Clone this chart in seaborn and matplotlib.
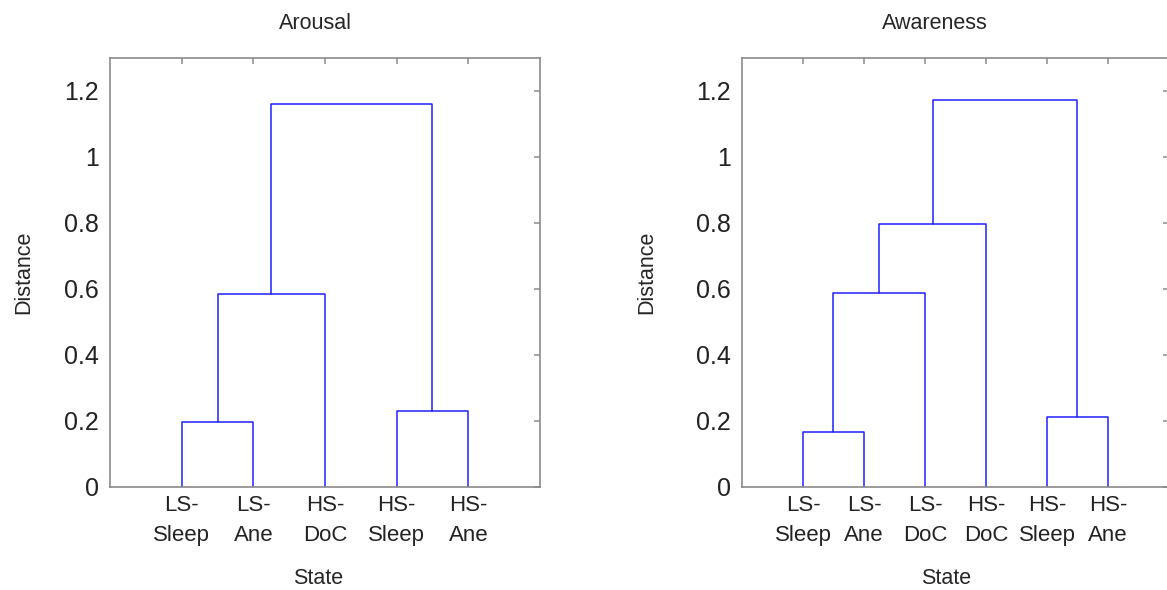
import matplotlib
matplotlib.use("Agg")
import matplotlib.pyplot as plt
import pandas as pd
import seaborn as sns

# leaf order as shown on the x axis
arousal_leaves = ["LS-\nSleep", "LS-\nAne", "HS-\nDoC", "HS-\nSleep", "HS-\nAne"]
# merges: (left id, right id, distance); leaves are 0..n-1, new clusters n, n+1, ...
arousal_links = [(0, 1, 0.197), (3, 4, 0.229), (5, 2, 0.584), (7, 6, 1.161)]

awareness_leaves = ["LS-\nSleep", "LS-\nAne", "LS-\nDoC", "HS-\nDoC", "HS-\nSleep", "HS-\nAne"]
awareness_links = [(0, 1, 0.168), (4, 5, 0.212), (6, 2, 0.588), (8, 3, 0.797), (9, 7, 1.173)]

titles = ["Arousal", "Awareness"]

sns.set_theme(style="white")
plt.rcParams["font.family"] = ["Liberation Sans", "DejaVu Sans"]

LINE = "#1f1fff"
SPINE = "#8a8a8a"


def link_frame(leaves, links):
    n = len(leaves)
    xpos = {i: i + 1.0 for i in range(n)}
    ypos = {i: 0.0 for i in range(n)}
    rows = []
    for k, (a, b, h) in enumerate(links):
        xs = [xpos[a], xpos[a], xpos[b], xpos[b]]
        ys = [ypos[a], h, h, ypos[b]]
        for j, (x, y) in enumerate(zip(xs, ys)):
            rows.append({"link": k, "order": j, "x": x, "y": y})
        xpos[n + k] = (xpos[a] + xpos[b]) / 2
        ypos[n + k] = h
    return pd.DataFrame(rows)


fig = plt.figure(figsize=(11.67, 5.9), dpi=100)
boxes = [[0.0943, 0.1746, 0.3684, 0.7271], [0.6358, 0.1746, 0.3659, 0.7271]]
title_x = [0.477, 0.452]
label_x = [0.485, 0.478]
ylabel_x = [-0.177, -0.199]

for i, (leaves, links) in enumerate([(arousal_leaves, arousal_links),
                                     (awareness_leaves, awareness_links)]):
    ax = fig.add_axes(boxes[i])
    df = link_frame(leaves, links)
    for k, part in df.groupby("link"):
        sns.lineplot(data=part, x="x", y="y", sort=False, estimator=None,
                     color=LINE, lw=1.1, ax=ax)
    n = len(leaves)
    ax.set_xlim(0, n + 1)
    ax.set_ylim(0, 1.3)
    ax.set_xticks(range(1, n + 1))
    ax.set_xticklabels(leaves, fontsize=16, color="#222222", linespacing=1.55)
    ax.set_yticks([0, 0.2, 0.4, 0.6, 0.8, 1.0, 1.2])
    ax.set_yticklabels(["0", "0.2", "0.4", "0.6", "0.8", "1", "1.2"],
                       fontsize=18, color="#222222")
    ax.tick_params(direction="in", top=True, right=True, length=4, width=1.1,
                   color=SPINE, pad=8)
    ax.tick_params(axis="x", pad=6)
    for s in ax.spines.values():
        s.set_color(SPINE)
        s.set_linewidth(1.2)
    ax.set_title(titles[i], fontsize=15.5, x=title_x[i], pad=21)
    ax.set_xlabel("State", fontsize=15.5)
    ax.set_ylabel("Distance", fontsize=15.5)
    ax.xaxis.set_label_coords(label_x[i], -0.19)
    ax.yaxis.set_label_coords(ylabel_x[i], 0.5)
    if ax.get_legend():
        ax.get_legend().remove()

fig.savefig("out.png", dpi=100)
